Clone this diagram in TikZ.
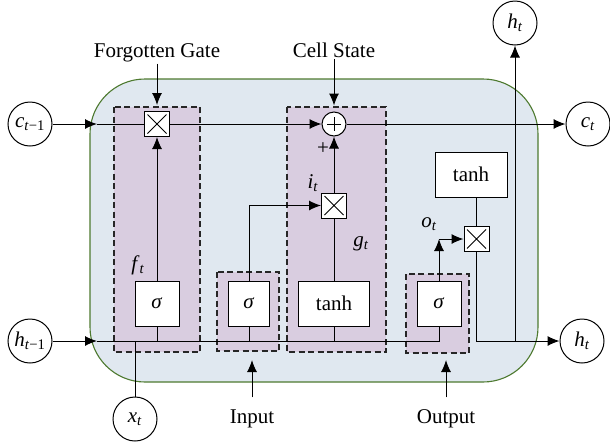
\documentclass[tikz,border=0pt]{standalone}
\usepackage{fontspec}
\setmainfont{Liberation Serif}
\usetikzlibrary{arrows.meta}
\definecolor{cellbg}{HTML}{E0E8F0}
\definecolor{gatebg}{HTML}{D9CDE0}
\definecolor{cellborder}{HTML}{4E7A30}
\newcommand{\myvar}[2]{\textit{#1}\textsubscript{#2}}
\begin{document}
\begin{tikzpicture}[x=1pt,y=-1pt,
  font=\fontsize{21}{25}\selectfont,
  line width=1pt,
  >={Latex[length=12pt,width=10pt]},
  gatebox/.style={fill=gatebg,draw=black!85,line width=1.1pt,dash pattern=on 6pt off 3.5pt},
  fnbox/.style={draw,fill=white,inner sep=0pt,minimum height=45pt},
  mulbox/.style={draw,fill=white,minimum size=25pt,inner sep=0pt,
    path picture={\draw[line width=0.8pt]
      ([xshift=3pt,yshift=-3pt]path picture bounding box.north west) --
      ([xshift=-3pt,yshift=3pt]path picture bounding box.south east)
      ([xshift=-3pt,yshift=-3pt]path picture bounding box.north east) --
      ([xshift=3pt,yshift=3pt]path picture bounding box.south west);}},
  plusc/.style={draw,circle,fill=white,minimum size=24pt,inner sep=0pt,
    path picture={\draw[line width=0.9pt]
      ([yshift=7pt]path picture bounding box.center) -- ([yshift=-7pt]path picture bounding box.center)
      ([xshift=7pt]path picture bounding box.center) -- ([xshift=-7pt]path picture bounding box.center);}},
  varc/.style={draw,circle,fill=white,minimum size=44pt,inner sep=0pt},
  lbl/.style={inner sep=1pt},
]
\useasboundingbox (0,0) rectangle (610,445);
% cell body
\draw[draw=cellborder,fill=cellbg,line width=1.1pt,rounded corners=55pt] (90,79) rectangle (538,382);
% gate regions
\path[gatebox] (114,107) rectangle (200,352);
\path[gatebox] (217,272) rectangle (279,351);
\path[gatebox] (287,107) rectangle (386,352);
\path[gatebox] (406,274) rectangle (469,353);
% function boxes
\node[fnbox,minimum width=44pt] (sigF) at (157,303.5) {\textit{σ}};
\node[fnbox,minimum width=41pt] (sigI) at (249,303.5) {\textit{σ}};
\node[fnbox,minimum width=71pt] (tanhC) at (334,303.5) {tanh};
\node[fnbox,minimum width=44pt] (sigO) at (439,303.5) {\textit{σ}};
\node[fnbox,minimum width=72pt] (tanhO) at (471,174.5) {tanh};
\node[mulbox] (mulF) at (157,124) {};
\node[mulbox] (mulI) at (334,205.5) {};
\node[mulbox] (mulO) at (476.5,239) {};
\node[plusc] (plus) at (334,124) {};
% variables
\node[varc] (cprev) at (30,124) {\myvar{c}{\textit{t}−1}};
\node[varc] (cnext) at (588,124) {\myvar{c}{\textit{t}}};
\node[varc] (hprev) at (30,341) {\myvar{h}{\textit{t}−1}};
\node[varc] (hnext) at (582,341) {\myvar{h}{\textit{t}}};
\node[varc] (htop) at (515,23) {\myvar{h}{\textit{t}}};
\node[varc] (xt) at (135,419) {\myvar{x}{\textit{t}}};
% labels
\node[lbl] (fgl) at (157,53) {Forgotten Gate};
\node[lbl] (csl) at (334,50) {Cell State};
\node[lbl] (inl) at (252,419) {Input};
\node[lbl] (outl) at (446,419) {Output};
\node[lbl] (plusl) at (323,149) {+};
\node[lbl] (itl) at (313,183) {\myvar{i}{\textit{t}}};
\node[lbl] (ftl) at (138,265) {\myvar{f}{\textit{t}}};
\node[lbl] (gtl) at (361,244) {\myvar{g}{\textit{t}}};
\node[lbl] (otl) at (429,224) {\myvar{o}{\textit{t}}};
% coordinates
\coordinate (cin) at (97,124);
\coordinate (hin) at (97,341);
\coordinate (ocorner) at (439,239);
\coordinate (inA) at (252,360);
\coordinate (outA) at (446,360);
% cell state line
\draw[->] (cprev) -- (cin);
\draw (cin) -- (mulF);
\draw[->] (mulF) -- (plus);
\draw[->] (plus) -- (cnext);
% hidden input line
\draw[->] (hprev) -- (hin);
\draw (hin) -- (hin -| sigO.south) -- (sigO.south);
\draw (sigF.south) -- (sigF.south |- hin);
\draw (sigI.south) -- (sigI.south |- hin);
\draw (tanhC.south) -- (tanhC.south |- hin);
\draw (xt) -- (xt |- hin);
% gates
\draw[->] (sigF) -- (mulF);
\draw[->] (sigI.north) |- (mulI);
\draw (tanhC) -- (mulI);
\draw[->] (mulI) -- (plus);
\draw[->] (sigO.north) -- (ocorner);
\draw[->] (ocorner) -- (mulO);
\draw (mulO.north) -- (mulO.north |- tanhO.south);
\draw[->] (mulO.south) |- (hnext);
\draw[->] (htop |- hnext) -- (htop);
% label arrows
\draw[->,shorten >=6pt] (fgl) -- (mulF);
\draw[->,shorten >=6pt] (csl) -- (plus);
\draw[->,shorten <=11pt] (inl) -- (inA);
\draw[->,shorten <=11pt] (outl) -- (outA);
\end{tikzpicture}
\end{document}
